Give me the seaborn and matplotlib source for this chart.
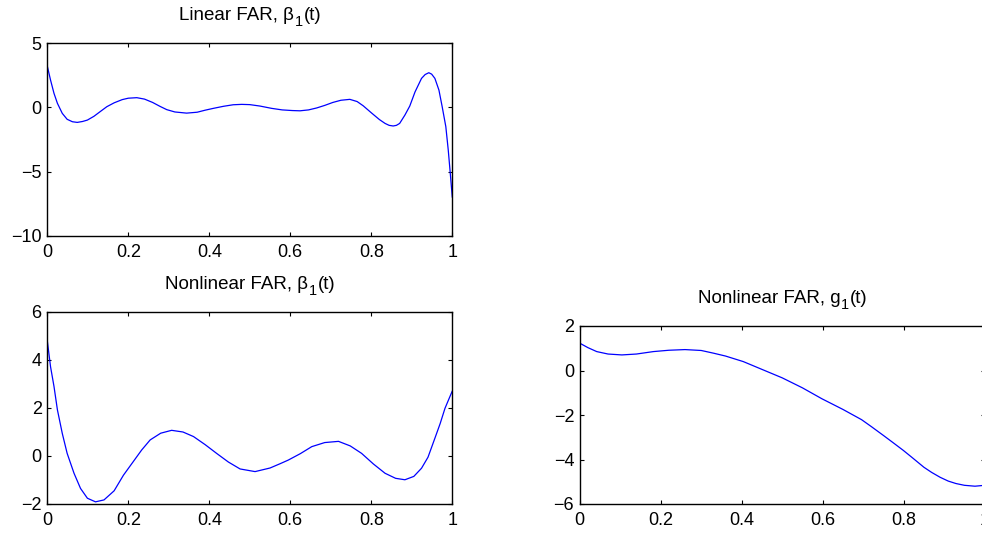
import matplotlib
matplotlib.use("Agg")
import matplotlib.pyplot as plt
from matplotlib.transforms import IdentityTransform
import seaborn as sns
import pandas as pd

# ---- data ----
t_lin = [0.0, 0.008, 0.0165, 0.025, 0.037, 0.049, 0.062, 0.074, 0.087, 0.099, 0.115,
         0.132, 0.147, 0.165, 0.185, 0.20, 0.221, 0.24, 0.26, 0.278, 0.295, 0.315,
         0.344, 0.37, 0.39, 0.41, 0.435, 0.459, 0.48, 0.50, 0.525, 0.554, 0.58, 0.605,
         0.624, 0.645, 0.665, 0.685, 0.705, 0.725, 0.747, 0.765, 0.78, 0.801, 0.82,
         0.834, 0.844, 0.854, 0.862, 0.87, 0.883, 0.895, 0.908, 0.924, 0.933, 0.942,
         0.949, 0.957, 0.967, 0.975, 0.984, 0.990, 0.995, 1.0]
beta_lin = [3.2, 2.12, 1.09, 0.31, -0.47, -0.93, -1.12, -1.17, -1.1, -0.99, -0.7,
            -0.3, 0.05, 0.35, 0.6, 0.71, 0.75, 0.64, 0.38, 0.08, -0.18, -0.36,
            -0.45, -0.38, -0.22, -0.08, 0.08, 0.2, 0.23, 0.21, 0.1, -0.08, -0.2, -0.25,
            -0.27, -0.2, -0.05, 0.15, 0.38, 0.55, 0.62, 0.45, 0.12, -0.45, -0.95,
            -1.25, -1.4, -1.45, -1.4, -1.25, -0.6, 0.1, 1.2, 2.25, 2.55, 2.69,
            2.58, 2.25, 1.34, 0.05, -1.5, -3.32, -5.13, -7.0]

t_nl = [0.0, 0.008, 0.0165, 0.025, 0.037, 0.049, 0.066, 0.082, 0.099, 0.119, 0.14,
        0.165, 0.188, 0.212, 0.233, 0.254, 0.28, 0.307, 0.335, 0.361, 0.39, 0.418,
        0.447, 0.476, 0.513, 0.55, 0.575, 0.595, 0.625, 0.653, 0.685, 0.719, 0.748,
        0.776, 0.805, 0.834, 0.86, 0.883, 0.905, 0.924, 0.94, 0.957, 0.97, 0.982, 1.0]
beta_nl = [4.8, 3.72, 2.9, 1.92, 0.94, 0.11, -0.72, -1.35, -1.76, -1.91, -1.83,
           -1.45, -0.8, -0.24, 0.25, 0.67, 0.95, 1.07, 1.0, 0.81, 0.47, 0.11,
           -0.25, -0.54, -0.65, -0.5, -0.32, -0.17, 0.1, 0.39, 0.56, 0.61, 0.42,
           0.11, -0.33, -0.72, -0.93, -0.99, -0.85, -0.51, -0.05, 0.74, 1.35, 1.99, 2.71]

t_g = [0.0, 0.02, 0.042, 0.07, 0.104, 0.14, 0.182, 0.22, 0.26, 0.30, 0.33, 0.36, 0.404,
       0.45, 0.5, 0.55, 0.598, 0.65, 0.696, 0.72, 0.75, 0.775, 0.799, 0.82, 0.85,
       0.869, 0.89, 0.91, 0.929, 0.95, 0.976, 1.0]
g_nl = [1.23, 1.03, 0.85, 0.74, 0.70, 0.74, 0.85, 0.91, 0.94, 0.9, 0.78, 0.65, 0.40,
        0.05, -0.33, -0.78, -1.27, -1.75, -2.21, -2.52, -2.92, -3.26, -3.59, -3.9,
        -4.35, -4.58, -4.80, -4.97, -5.08, -5.16, -5.20, -5.16]

# titles: (main text, subscript, tail)
titles = [("Linear FAR, β", "1", "(t)"),
          ("Nonlinear FAR, β", "1", "(t)"),
          ("Nonlinear FAR, g", "1", "(t)")]
xticks = [0, 0.2, 0.4, 0.6, 0.8, 1]
xticklabels = ["0", "0.2", "0.4", "0.6", "0.8", "1"]
yticks_lin = [-10, -5, 0, 5]
yticks_nl = [-2, 0, 2, 4, 6]
yticks_g = [-6, -4, -2, 0, 2]

sns.set_theme(style="white")
plt.rcParams["font.family"] = ["Liberation Sans", "DejaVu Sans"]
plt.rcParams["axes.unicode_minus"] = True

W, H = 982, 536
fig = plt.figure(figsize=(W / 100, H / 100), dpi=100)
fig.patch.set_facecolor("white")

def frac(l, t, r, b):
    return [l / W, 1 - b / H, (r - l) / W, (b - t) / H]

ax1 = fig.add_axes(frac(47.3, 43, 452.3, 236))
ax2 = fig.add_axes(frac(47.3, 312, 452.3, 504))
ax3 = fig.add_axes(frac(579.7, 326, 984.7, 504))

specs = [
    (ax1, t_lin, beta_lin, (-10, 5), yticks_lin, titles[0]),
    (ax2, t_nl, beta_nl, (-2, 6), yticks_nl, titles[1]),
    (ax3, t_g, g_nl, (-6, 2), yticks_g, titles[2]),
]

renderer = fig.canvas.get_renderer()
MAIN_FS = 13.5
SUB_FS = 10.5
TITLE_GAP = 23   # px from axes top to title baseline
SUB_DROP = 6     # px drop of subscript baseline

def sub_title(ax, parts):
    pre, sub, post = parts
    bb = ax.get_position()
    cx = (bb.x0 + bb.x1) / 2 * W
    base = bb.y1 * H + TITLE_GAP
    tr = IdentityTransform()
    t1 = fig.text(0, base, pre, fontsize=MAIN_FS, ha="left", va="baseline",
                  transform=tr, color="black")
    t2 = fig.text(0, base - SUB_DROP, sub, fontsize=SUB_FS, ha="left",
                  va="baseline", transform=tr, color="black")
    t3 = fig.text(0, base, post, fontsize=MAIN_FS, ha="left", va="baseline",
                  transform=tr, color="black")
    w1 = t1.get_window_extent(renderer).width
    w2 = t2.get_window_extent(renderer).width
    w3 = t3.get_window_extent(renderer).width
    x0 = cx - (w1 + w2 + w3) / 2
    t1.set_x(x0)
    t2.set_x(x0 + w1 + 0.5)
    t3.set_x(x0 + w1 + w2 + 1)

for ax, tx, ty, ylim, yt, title in specs:
    df = pd.DataFrame({"t": tx, "v": ty})
    sns.lineplot(data=df, x="t", y="v", ax=ax, color="#0000ff", linewidth=0.9,
                 sort=False, estimator=None)
    ax.set_xlim(0, 1)
    ax.set_ylim(*ylim)
    ax.set_xticks(xticks)
    ax.set_xticklabels(xticklabels)
    ax.set_yticks(yt)
    ax.set_xlabel("")
    ax.set_ylabel("")
    ax.set_facecolor("white")
    for s in ax.spines.values():
        s.set_visible(True)
        s.set_color("black")
        s.set_linewidth(1.0)
    ax.tick_params(axis="both", which="major", direction="in", length=3,
                   width=0.8, colors="black", labelsize=13,
                   top=True, right=True, bottom=True, left=True)
    ax.tick_params(axis="x", pad=6)
    ax.tick_params(axis="y", pad=4)
    ax.grid(False)
    sub_title(ax, title)

fig.savefig("out.png", dpi=100, facecolor="white")
